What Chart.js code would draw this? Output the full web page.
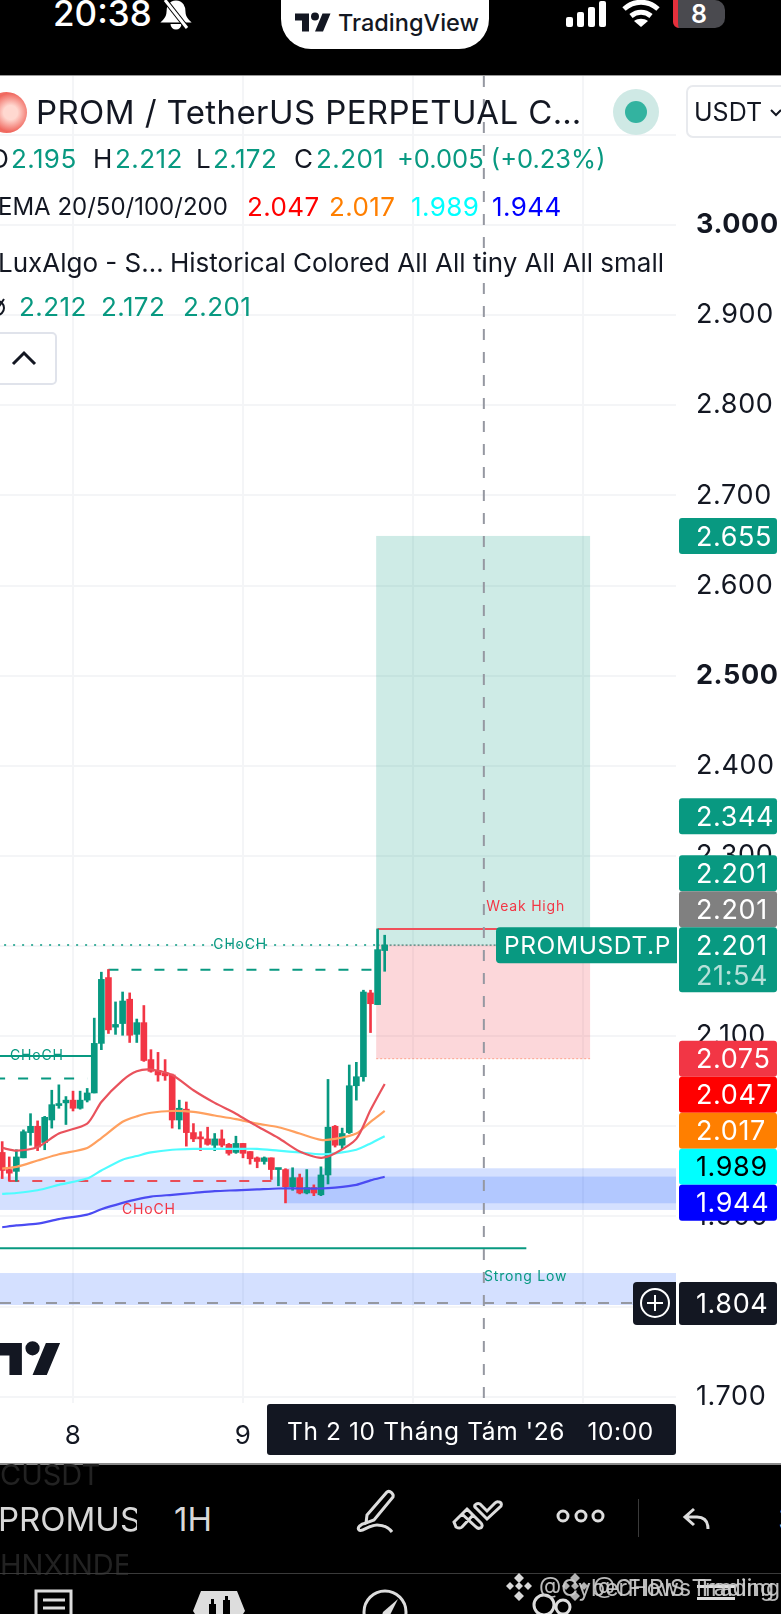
<!DOCTYPE html>
<html>
<head>
<meta charset="utf-8">
<script src="https://cdn.jsdelivr.net/npm/chart.js@4"></script>
<style>
  html, body { margin: 0; padding: 0; background: #fff; width: 781px; height: 1614px; overflow: hidden; font-family: Inter, sans-serif; }
  #wrap { position: relative; width: 781px; height: 1614px; overflow: hidden; }
  #chartBox { position: absolute; left: 0; top: 76px; width: 781px; height: 1387px; }
  .blk { position: absolute; left: 0; width: 781px; background: #000; }
  .t { position: absolute; white-space: nowrap; line-height: 1; transform: translateY(-50%); color: #131722; }
  .n { font-size: 26px; letter-spacing: .4px; }
  .g { color: #089981; }
  svg { position: absolute; overflow: visible; }
</style>
</head>
<body>
<div id="wrap">
  <div id="chartBox"><canvas id="chart"></canvas></div>

  <!-- status bar -->
  <div class="blk" style="top:0;height:76px;border-bottom:1px solid #999;box-sizing:border-box"></div>
  <span class="t" style="left:53px;top:13px;font-size:35px;font-weight:500;color:#fff">20:38</span>
  <svg style="left:162px;top:0" width="28" height="30" fill="none" stroke="#fff" stroke-width="3">
    <path d="M14 2c-6 0-8 5-8 10 0 5-2 7-4 9h24c-2-2-4-4-4-9 0-5-2-10-8-10z" fill="#fff"/><path d="M10 24a4 4 0 0 0 8 0" fill="#fff"/><path d="M3 0l22 28" stroke="#000" stroke-width="5"/><path d="M3 0l22 28"/>
  </svg>
  <div style="position:absolute;left:281px;top:-30px;width:208px;height:79px;border-radius:30px;background:#fff"></div>
  <svg style="left:295px;top:12px" width="36" height="21" viewBox="0 4 36 18"><path fill="#131722" d="M14 22H7V11H0V4h14v18zM28 22h-8l7.5-18h8L28 22zM20 11a4 4 0 1 0 0-8 4 4 0 0 0 0 8z"/></svg>
  <span class="t" style="left:338px;top:23px;font-size:23.5px;font-weight:500">TradingView</span>
  <svg style="left:565px;top:0" width="45" height="28" fill="#fff"><rect x="1" y="17" width="7" height="10" rx="2"/><rect x="12" y="12" width="7" height="15" rx="2"/><rect x="23" y="7" width="7" height="20" rx="2"/><rect x="34" y="1" width="7" height="26" rx="2"/></svg>
  <svg style="left:622px;top:0" width="38" height="28" fill="none" stroke="#fff" stroke-width="5"><path d="M2 9c10-9 24-9 34 0"/><path d="M9 16c6-5 14-5 20 0"/><path fill="#fff" stroke="none" d="M19 27l-7-6c4-3 10-3 14 0z"/></svg>
  <div style="position:absolute;left:673px;top:0;width:52px;height:28px;background:#4a4a4f;border-radius:0 10px 10px 6px;border-left:5px solid #e5303c;box-sizing:border-box"></div>
  <span class="t" style="left:691px;top:14px;font-size:25px;font-weight:600;color:#fff">8</span>

  <!-- legend block -->
  <div style="position:absolute;left:-14px;top:92px;width:41px;height:41px;border-radius:50%;background:radial-gradient(circle at 60% 50%,#ffd8d0 0 22%,#f0685f 60%,#f58b7c)"></div>
  <span class="t" style="left:36px;top:112px;font-size:33px;letter-spacing:.4px">PROM / TetherUS PERPETUAL C…</span>
  <div style="position:absolute;left:613px;top:89px;width:46px;height:46px;border-radius:50%;background:#cfe9e5"></div>
  <div style="position:absolute;left:625px;top:101px;width:22px;height:22px;border-radius:50%;background:#33b3a0"></div>
  <div style="position:absolute;left:686px;top:85px;width:110px;height:53px;border:2px solid #e8eaee;border-radius:7px;box-sizing:border-box;background:#fff"></div>
  <span class="t" style="left:694px;top:112px;font-size:25px">USDT</span>
  <svg style="left:770px;top:109px" width="12" height="8" fill="none" stroke="#131722" stroke-width="2"><path d="M1 1l5 5 5-5"/></svg>

  <span class="t n" style="left:-11px;top:159px">O</span>
  <span class="t n g" style="left:11px;top:159px">2.195</span>
  <span class="t n" style="left:93px;top:159px">H</span>
  <span class="t n g" style="left:115px;top:159px">2.212</span>
  <span class="t n" style="left:196px;top:159px">L</span>
  <span class="t n g" style="left:213px;top:159px">2.172</span>
  <span class="t n" style="left:294px;top:159px">C</span>
  <span class="t n g" style="left:316px;top:159px">2.201</span>
  <span class="t g" style="left:397px;top:159px;font-size:25.5px">+0.005 (+0.23%)</span>
  <span class="t" style="left:-2px;top:207px;font-size:24px">EMA 20/50/100/200</span>
  <span class="t n" style="left:247px;top:207px;color:#ff0000">2.047</span>
  <span class="t n" style="left:329px;top:207px;color:#ff7f00">2.017</span>
  <span class="t n" style="left:411px;top:207px;color:#00ffff">1.989</span>
  <span class="t n" style="left:492px;top:207px;color:#0000ff">1.944</span>
  <span class="t" style="left:-2px;top:263px;font-size:26px">LuxAlgo - S…</span>
  <span class="t" style="left:170px;top:263px;font-size:26px">Historical Colored All All tiny All All small</span>
  <svg style="left:-6px;top:297px" width="14" height="22" fill="none" stroke="#131722" stroke-width="2"><circle cx="3" cy="11" r="7"/><path d="M10 2L-2 20"/></svg>
  <span class="t n g" style="left:19px;top:307px">2.212</span>
  <span class="t n g" style="left:101px;top:307px">2.172</span>
  <span class="t n g" style="left:183px;top:307px">2.201</span>
  <div style="position:absolute;left:-8px;top:332px;width:65px;height:53px;border:2px solid #e0e3eb;border-radius:5px;box-sizing:border-box;background:#fff"></div>
  <svg style="left:11px;top:351px" width="26" height="15" fill="none" stroke="#131722" stroke-width="3"><path d="M2 13L13 2l11 11"/></svg>

  <!-- TV watermark -->
  <svg style="left:-3px;top:1343px" width="64" height="32" viewBox="0 4 36 18"><path fill="#131722" d="M14 22H7V11H0V4h14v18zM28 22h-8l7.5-18h8L28 22zM20 11a4 4 0 1 0 0-8 4 4 0 0 0 0 8z"/></svg>

  <!-- bottom toolbar -->
  <div class="blk" style="top:1463px;height:151px;border-top:2px solid #8b8b8b;box-sizing:border-box"></div>
  <span class="t" style="left:0;top:1474px;font-size:29px;color:#222">CUSDT</span>
  <span class="t" style="left:-2px;top:1519px;font-size:33px;color:#d8d8d8;width:139px;overflow:hidden;line-height:40px">PROMUSDT</span>
  <span class="t" style="left:174px;top:1519px;font-size:33px;color:#d8d8d8">1H</span>
  <span class="t" style="left:0;top:1565px;font-size:29px;color:#222;width:128px;overflow:hidden;line-height:34px">HNXINDEX</span>
  <svg style="left:355px;top:1490px" width="50" height="52" fill="none" stroke="#ddd" stroke-width="3">
    <path d="M12 25L32 2c3-2 7 2 6 5L19 30l-8 3z"/><path d="M11 33c-6 1-9 5-7 7 3 3 9-5 18-5 8 0 12 3 15 7"/>
  </svg>
  <svg style="left:452px;top:1500px" width="52" height="32" fill="none" stroke="#ddd" stroke-width="3">
    <path d="M2 22L15 9l6 6L10 27c-2 2-4 1-6 0zM15 9l14 14c2 2 1 5-1 5-2 1-3 0-5-2L10 14"/><path d="M24 8l11 11 14-13c1-2 0-4-2-4-2-1-3 0-4 1l-8 8-7-7c-2-1-4 0-5 1-1 2 0 2 1 3z"/>
  </svg>
  <svg style="left:554px;top:1508px" width="50" height="16" fill="none" stroke="#ddd" stroke-width="3"><circle cx="9" cy="8" r="5"/><circle cx="27" cy="8" r="5"/><circle cx="44" cy="8" r="5"/></svg>
  <div style="position:absolute;left:638px;top:1499px;width:1px;height:38px;background:#3a3a3a"></div>
  <svg style="left:682px;top:1507px" width="30" height="24" fill="none" stroke="#ddd" stroke-width="3"><path d="M12 2L3 10l9 8M3 10h12c7 0 11 4 11 12"/></svg>
  <span class="t" style="left:778px;top:1519px;font-size:34px;color:#ddd">3</span>
  <div style="position:absolute;left:0;top:1573px;width:781px;height:1px;background:#3a3a3a"></div>

  <svg style="left:34px;top:1589px" width="40" height="30" fill="none" stroke="#ddd" stroke-width="3"><rect x="2" y="2" width="35" height="40"/><path d="M9 11h22M9 19h22M9 27h22"/></svg>
  <svg style="left:193px;top:1590px" width="52" height="30"><path fill="#ddd" d="M8 1h36l8 20-8 12H8L0 21z"/><path fill="#000" d="M16 14h7v12h-7zM18 9h3v24h-3zM30 10h7v14h-7zM32 6h3v24h-3z"/></svg>
  <svg style="left:362px;top:1589px" width="48" height="30" fill="none" stroke="#ddd" stroke-width="3"><circle cx="23" cy="23" r="21"/><path fill="#ddd" stroke="none" d="M36 10L27 28l-9 5 3-10z"/></svg>
  <svg style="left:532px;top:1592px" width="40" height="24" fill="none" stroke="#ddd" stroke-width="3"><circle cx="12" cy="13" r="10"/><circle cx="31" cy="15" r="7"/></svg>
  <svg style="left:696px;top:1585px" width="40" height="29" fill="#ddd"><rect x="1" y="0" width="38" height="3"/><rect x="1" y="12" width="38" height="3"/></svg>

  <!-- repost watermark, two layers on top of each other -->
  <svg style="left:505px;top:1573px" width="30" height="28" fill="#d8d8d8"><path d="M14 0l5 5-5 5-5-5zM5 9l4 4-4 4-4-4zM23 9l4 4-4 4-4-4zM14 9l4 4-4 4-4-4zM14 18l5 5-5 5-5-5z"/></svg>
  <svg style="left:561px;top:1573px" width="30" height="28" fill="#d0d0d0" fill-opacity=".85"><path d="M14 0l5 5-5 5-5-5zM5 9l4 4-4 4-4-4zM23 9l4 4-4 4-4-4zM14 9l4 4-4 4-4-4zM14 18l5 5-5 5-5-5z"/></svg>
  <span class="t" style="left:539px;top:1588px;font-size:23px;color:#cfcfcf;opacity:.9;width:235px;text-align:justify;text-align-last:justify">@CyberFlows Trading</span>
  <span class="t" style="left:593px;top:1588px;font-size:23px;color:#cfcfcf;opacity:.9;width:181px;text-align:justify;text-align-last:justify">@CHRIS Trading</span>
</div>

<script>
// PROMUSDT.P 1h, hours counted from the start of day 8
const hours = [-10,-9,-8,-7,-6,-5,-4,-3,-2,-1,0,1,2,3,4,5,6,7,8,9,10,11,12,13,14,15,16,17,18,19,20,21,22,23,24,25,26,27,28,29,30,31,32,33,34,35,36,37,38,39,40,41,42,43,44];
const opens = [1.971,1.952,1.950,1.965,1.993,2.000,1.982,2.007,2.023,2.026,2.029,2.020,2.029,2.037,2.092,2.165,2.110,2.114,2.141,2.102,2.115,2.074,2.062,2.059,2.057,2.007,2.019,1.993,1.988,1.986,1.979,1.986,1.980,1.971,1.981,1.972,1.965,1.961,1.965,1.952,1.952,1.933,1.943,1.926,1.932,1.924,1.946,2.000,1.979,1.993,2.045,2.055,2.148,2.135,2.195];
const highs = [1.983,1.966,1.974,1.996,2.014,2.006,2.011,2.040,2.046,2.033,2.039,2.039,2.042,2.120,2.171,2.174,2.138,2.149,2.148,2.119,2.134,2.085,2.082,2.074,2.058,2.029,2.027,2.003,1.994,1.999,1.992,1.996,1.981,1.989,1.981,1.972,1.966,1.966,1.965,1.953,1.953,1.954,1.947,1.952,1.935,1.955,2.052,2.001,1.998,2.068,2.071,2.151,2.151,2.219,2.212];
const lows = [1.942,1.939,1.939,1.965,1.979,1.973,1.974,1.998,2.020,2.002,2.017,2.019,2.027,2.037,2.085,2.103,2.102,2.101,2.093,2.093,2.072,2.060,2.050,2.051,1.998,1.997,1.978,1.983,1.973,1.979,1.973,1.977,1.968,1.970,1.965,1.958,1.954,1.958,1.941,1.934,1.915,1.929,1.925,1.925,1.923,1.923,1.936,1.977,1.975,1.992,2.029,2.050,2.104,2.135,2.172];
const closes = [1.951,1.948,1.966,1.994,2.000,1.977,2.010,2.024,2.025,2.029,2.020,2.029,2.037,2.092,2.163,2.107,2.113,2.139,2.101,2.115,2.073,2.061,2.057,2.056,2.007,2.020,1.993,1.986,1.986,1.980,1.986,1.979,1.970,1.981,1.970,1.964,1.961,1.965,1.952,1.953,1.933,1.943,1.926,1.932,1.926,1.946,1.999,1.979,1.992,2.045,2.055,2.149,2.136,2.196,2.201];

const emaHours = [-10,-8,-5,-2,2,4,7,9,11,14,17,20,23,26,29,32,35,37,40,42,44];
const ema20 = [1.976,1.973,1.977,1.992,2.003,2.027,2.051,2.061,2.063,2.057,2.040,2.026,2.014,2.000,1.987,1.972,1.965,1.970,1.986,2.018,2.047];
const ema50 = [1.953,1.955,1.962,1.969,1.976,1.987,2.005,2.011,2.015,2.017,2.016,2.012,2.008,2.003,1.999,1.992,1.985,1.986,1.992,2.005,2.017];
const ema100 = [1.925,1.926,1.929,1.935,1.942,1.951,1.963,1.967,1.971,1.974,1.975,1.975,1.975,1.975,1.973,1.971,1.969,1.970,1.974,1.981,1.989];
const ema200 = [1.888,1.890,1.892,1.897,1.902,1.908,1.915,1.919,1.922,1.924,1.926,1.928,1.929,1.930,1.931,1.931,1.931,1.932,1.935,1.940,1.944];

const yTickValues = [1.7,1.8,1.9,2.0,2.1,2.2,2.3,2.4,2.5,2.6,2.7,2.8,2.9,3.0,3.1];
const dayTickHours = [0,24,48,72];
const dayTickLabels = ['8','9','',''];
const boldTicks = [2.5,3.0];

// structure lines from the LuxAlgo study: start hour, end hour, price
const chochHighDotted = [[-11,2.2012],[43,2.2012]];
const swingDashed = [[5,2.1738],[43,2.1738]];
const chochSolid = [[-11,2.078],[3,2.078]];
const lowerDashed = [[-11,2.0529],[2,2.0529]];
const redDashed = [[-9,1.9393],[28,1.9393]];
const strongLow = [[-11,1.8647],[64,1.8647]];
const weakHigh = [[43,2.219],[64,2.219]];
const lastPriceLine = [[43,2.201],[62,2.201]];

// zones: from hour, to hour, upper price, lower price
const profitZone = [42.8,73,2.655,2.201];
const stopZone = [42.8,73,2.201,2.075];
const demandZoneA = [-11,85.2,1.9442,1.9072];
const demandZoneB = [30.2,85.2,1.9534,1.9146];
const strongLowZone = [-11,85.2,1.8372,1.8017];

const crossHour = 58;
const crossPrice = 1.804;
const crossTimeLabel = "Th 2 10 Tháng Tám '26   10:00";

const textLabels = [
  ['CHoCH', 23.6, 2.2012, '#089981'],
  ['CHoCH', -5.1, 2.078, '#089981'],
  ['CHoCH', 10.7, 1.907, '#f23645'],
  ['Weak High', 63.9, 2.243, '#f23645'],
  ['Strong Low', 63.9, 1.8327, '#089981']
];

const GREEN = '#089981', RED = '#f23645', FONT = 'Inter, sans-serif';

function pts(pairs) { return pairs.map(p => ({ x: p[0], y: p[1] })); }
function emaSet(vals, color) {
  return { type: 'line', data: emaHours.map((h, i) => ({ x: h, y: vals[i] })), borderColor: color, borderWidth: 2.2, pointRadius: 0, tension: 0.25, order: 1 };
}
function levelSet(pairs, color, width, dash, order) {
  return { type: 'line', data: pts(pairs), borderColor: color, borderWidth: width, borderDash: dash || [], pointRadius: 0, order: order || 3 };
}
const candleColors = closes.map((c, i) => c >= opens[i] ? GREEN : RED);

const datasets = [
  emaSet(ema20, '#e9525c'),
  emaSet(ema50, '#ffa05f'),
  emaSet(ema100, '#4ffcff'),
  emaSet(ema200, '#4b4bf2'),
  { type: 'bar', data: hours.map((h, i) => ({ x: h, y: [opens[i], closes[i]] })), backgroundColor: candleColors, barThickness: 6, minBarLength: 2, grouped: false, order: 2 },
  { type: 'bar', data: hours.map((h, i) => ({ x: h, y: [lows[i], highs[i]] })), backgroundColor: candleColors, barThickness: 2, grouped: false, order: 2 },
  levelSet(chochHighDotted, GREEN, 1.5, [2, 7]),
  levelSet(swingDashed, GREEN, 2, [10, 13]),
  levelSet(chochSolid, GREEN, 2),
  levelSet(lowerDashed, GREEN, 2, [10, 13]),
  levelSet(redDashed, '#ea4d57', 2, [10, 13]),
  levelSet(strongLow, GREEN, 2),
  levelSet(weakHigh, '#f0505b', 2),
  levelSet(lastPriceLine, '#5f8f86', 1.5, [2, 2])
];

function fillZone(chart, z, color, border) {
  const { ctx, scales: { x, y } } = chart;
  const l = x.getPixelForValue(z[0]), r = x.getPixelForValue(z[1]);
  const t = y.getPixelForValue(z[2]), b = y.getPixelForValue(z[3]);
  ctx.fillStyle = color;
  ctx.fillRect(l, t, r - l, b - t);
  if (border) {
    ctx.strokeStyle = border; ctx.lineWidth = 1; ctx.setLineDash([2, 2]);
    ctx.beginPath(); ctx.moveTo(l, b); ctx.lineTo(r, b); ctx.stroke(); ctx.setLineDash([]);
  }
}

const zonesPlugin = {
  id: 'zones',
  beforeDatasetsDraw(chart) {
    const { ctx, chartArea: a } = chart;
    ctx.save();
    ctx.beginPath(); ctx.rect(a.left, a.top, a.right - a.left, a.bottom - a.top); ctx.clip();
    fillZone(chart, profitZone, 'rgba(8,153,129,0.2)');
    fillZone(chart, stopZone, 'rgba(242,54,69,0.2)', 'rgba(255,130,100,0.7)');
    fillZone(chart, demandZoneA, 'rgba(41,98,255,0.2)');
    fillZone(chart, demandZoneB, 'rgba(41,98,255,0.2)');
    fillZone(chart, strongLowZone, 'rgba(41,98,255,0.2)');
    ctx.restore();
  }
};

function tag(ctx, left, top, w, h, color, radius) {
  ctx.fillStyle = color;
  ctx.beginPath(); ctx.roundRect(left, top, w, h, radius); ctx.fill();
}
function tagText(ctx, text, x, yc, color, size) {
  ctx.fillStyle = color;
  ctx.font = (size || 27) + 'px ' + FONT;
  ctx.letterSpacing = '0.6px';
  ctx.textAlign = 'left'; ctx.textBaseline = 'middle';
  ctx.fillText(text, x, yc + 1.5);
}

const overlayPlugin = {
  id: 'overlay',
  afterDraw(chart) {
    const { ctx, chartArea: a, scales: { x, y } } = chart;
    ctx.save();

    // text on the pane
    ctx.font = '14px ' + FONT;
    ctx.letterSpacing = '0.8px';
    ctx.textAlign = 'center'; ctx.textBaseline = 'middle';
    textLabels.forEach(l => {
      ctx.fillStyle = l[3];
      ctx.fillText(l[0], x.getPixelForValue(l[1]), y.getPixelForValue(l[2]));
    });
    ctx.letterSpacing = '0px';

    // crosshair
    const cx = x.getPixelForValue(crossHour), cy = y.getPixelForValue(crossPrice);
    ctx.strokeStyle = '#9598a1'; ctx.lineWidth = 2; ctx.setLineDash([11, 12]);
    ctx.beginPath(); ctx.moveTo(cx, a.top); ctx.lineTo(cx, a.bottom); ctx.stroke();
    ctx.beginPath(); ctx.moveTo(a.left, cy); ctx.lineTo(a.right, cy); ctx.stroke();
    ctx.setLineDash([]);

    // symbol label and price tags on the axis
    const tagX = a.right + 3, tagW = 98, tagH = 36, textX = tagX + 17;
    const lastY = y.getPixelForValue(closes[closes.length - 1]);

    [[2.655, GREEN], [2.344, GREEN]].forEach(t => {
      const py = y.getPixelForValue(t[0]);
      tag(ctx, tagX, py - tagH / 2, tagW, tagH, t[1], 3);
      tagText(ctx, t[0].toFixed(3), textX, py, '#fff');
    });

    // lower tags get pushed down when they would overlap
    let prevY = -1000;
    [[2.075, RED, '#fff'], [2.047, '#ff0000', '#fff'], [2.017, '#ff7f00', '#fff'], [1.989, '#00ffff', '#000'], [1.944, '#0000ff', '#fff']].forEach(t => {
      const py = Math.max(y.getPixelForValue(t[0]), prevY + tagH);
      tag(ctx, tagX, py - tagH / 2, tagW, tagH, t[1], 3);
      tagText(ctx, t[0].toFixed(3), textX, py, t[2]);
      prevY = py;
    });

    // three tags for the last price, stacked upwards
    tag(ctx, tagX, lastY - 18 - 2 * tagH, tagW, tagH, GREEN, 3);
    tagText(ctx, '2.201', textX, lastY - 2 * tagH, '#fff');
    tag(ctx, tagX, lastY - 18 - tagH, tagW, tagH, '#808080', 3);
    tagText(ctx, '2.201', textX, lastY - tagH, '#fff');
    tag(ctx, tagX, lastY - 18, tagW, 65, GREEN, 3);
    tagText(ctx, '2.201', textX, lastY, '#fff');
    tagText(ctx, '21:54', textX, lastY + 30, '#b5e0d8');

    tag(ctx, tagX - 183, lastY - 18, 181, tagH, GREEN, [4, 0, 0, 4]);
    tagText(ctx, 'PROMUSDT.P', tagX - 175, lastY, '#fff', 24.5);

    // crosshair tag and plus button
    tag(ctx, tagX, cy - 21, tagW, 43, '#131722', 3);
    tagText(ctx, crossPrice.toFixed(3), textX, cy, '#fff');
    tag(ctx, a.right - 43, cy - 21, 43, 43, '#131722', [4, 0, 0, 4]);
    const bx = a.right - 21;
    ctx.strokeStyle = '#fff'; ctx.lineWidth = 2;
    ctx.beginPath(); ctx.arc(bx, cy, 14, 0, Math.PI * 2); ctx.stroke();
    ctx.beginPath(); ctx.moveTo(bx - 8, cy); ctx.lineTo(bx + 8, cy); ctx.moveTo(bx, cy - 8); ctx.lineTo(bx, cy + 8); ctx.stroke();

    // crosshair time tag
    tag(ctx, a.right - 409, a.bottom + 1, 409, 51, '#131722', 3);
    ctx.font = '24.5px ' + FONT;
    ctx.letterSpacing = '0.6px';
    ctx.fillStyle = '#fff'; ctx.textAlign = 'left'; ctx.textBaseline = 'middle';
    ctx.fillText(crossTimeLabel, a.right - 389, a.bottom + 30);

    ctx.restore();
  },
  beforeDraw(chart) {
    chart.ctx.letterSpacing = '0.6px';
  }
};

new Chart(document.getElementById('chart').getContext('2d'), {
  type: 'bar',
  data: { datasets },
  plugins: [zonesPlugin, overlayPlugin],
  options: {
    responsive: true,
    maintainAspectRatio: false,
    animation: false,
    layout: { padding: 0 },
    plugins: { legend: { display: false }, tooltip: { enabled: false } },
    scales: {
      x: {
        type: 'linear',
        offset: false,
        min: -10.31,
        max: 85.13,
        afterBuildTicks: s => { s.ticks = dayTickHours.map(v => ({ value: v })); },
        afterFit: s => { s.height = 60; s.paddingLeft = 0; s.paddingRight = 0; },
        grid: { offset: false, color: '#f4f5f7', lineWidth: 2, drawTicks: false },
        border: { display: false },
        ticks: {
          autoSkip: false, maxRotation: 0, padding: 18,
          color: '#131722', font: { family: FONT, size: 26 },
          callback: v => dayTickLabels[dayTickHours.indexOf(v)]
        }
      },
      y: {
        type: 'linear',
        position: 'right',
        min: 1.693,
        max: 3.1653,
        afterBuildTicks: s => { s.ticks = yTickValues.map(v => ({ value: v })); },
        afterFit: s => { s.width = 105; s.paddingTop = 0; s.paddingBottom = 0; },
        grid: { color: '#f4f5f7', lineWidth: 2, drawTicks: false },
        border: { display: false },
        ticks: {
          autoSkip: false, padding: 20, color: '#131722',
          font: c => ({ family: FONT, size: 27, weight: c.tick && boldTicks.includes(c.tick.value) ? '700' : '400' }),
          callback: v => v > 3.05 ? '' : v.toFixed(3)
        }
      }
    }
  }
});
</script>
</body>
</html>
